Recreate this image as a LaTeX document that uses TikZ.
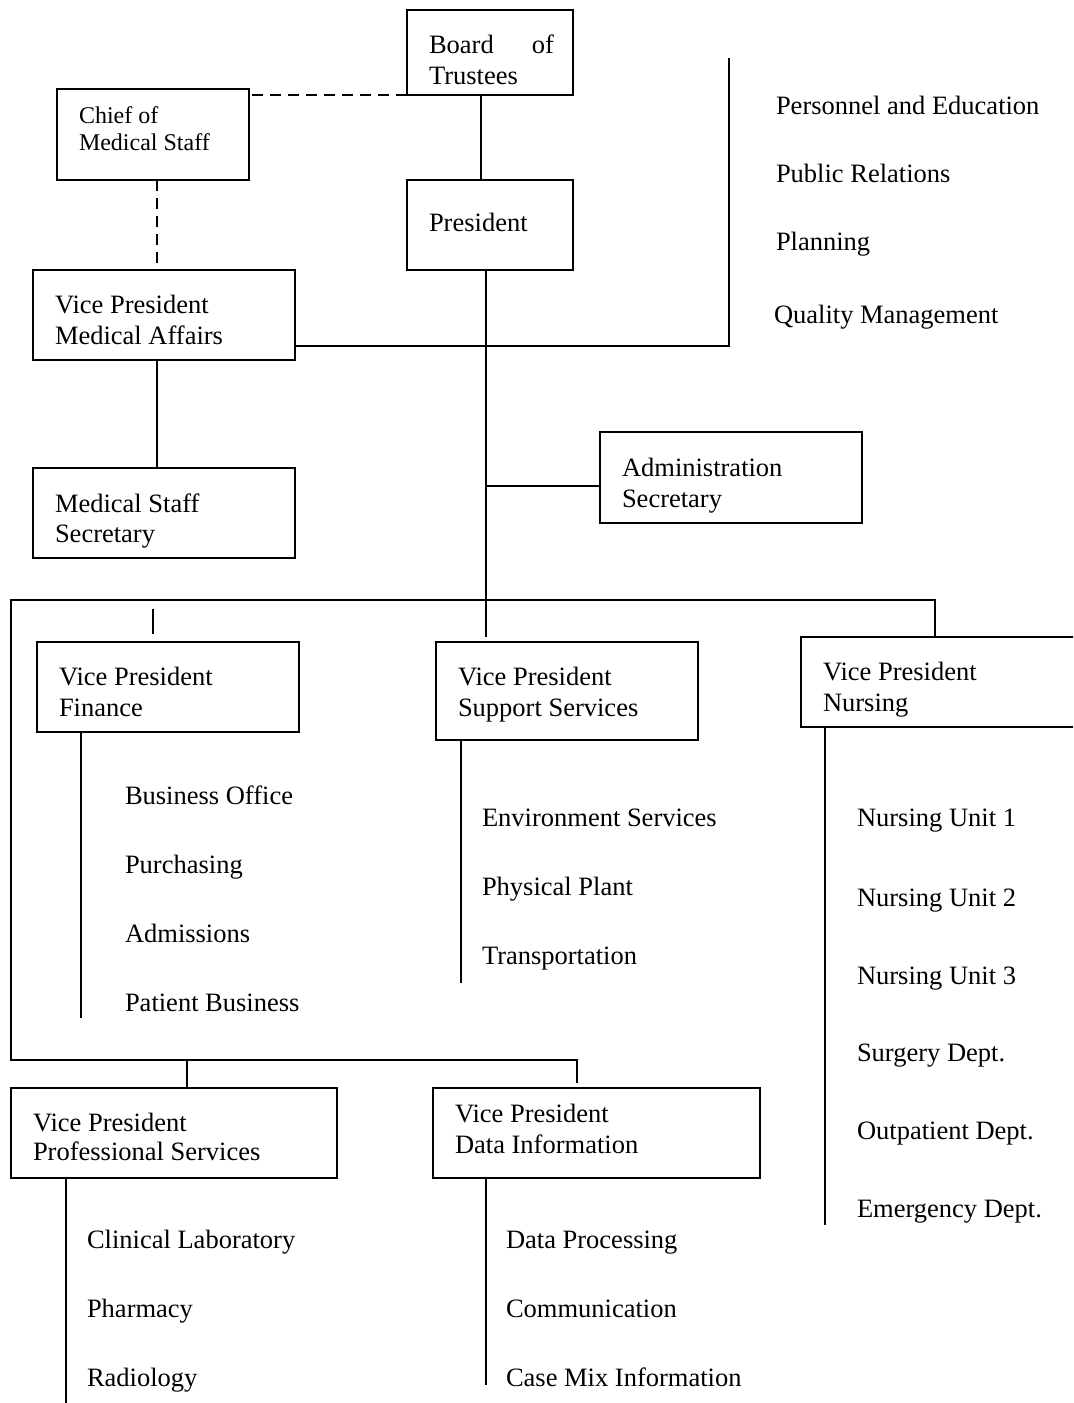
\documentclass[tikz,border=0pt]{standalone}
\usepackage{fontspec}
\setmainfont{Liberation Serif}
\begin{document}
\begin{tikzpicture}[x=0.5pt,y=-0.5pt,line width=1pt,
  unit/.style={draw,rectangle,inner sep=0pt,outer sep=0pt,anchor=north west},
  lbl/.style={anchor=base west,inner sep=0pt,font=\fontsize{13.25}{15.5}\selectfont},
  smalllbl/.style={anchor=base west,inner sep=0pt,font=\fontsize{12}{13.5}\selectfont},
  dashlink/.style={dash pattern=on 5.5pt off 3.5pt}]
\useasboundingbox (0,0) rectangle (1073,1403);
\clip (0,0) rectangle (1073,1403);

% ---- boxes ----
\node[unit,minimum width=83pt,minimum height=42.5pt] (board) at (407,10) {};
\node[unit,minimum width=96pt,minimum height=45.5pt] (chief) at (57,89) {};
\node[unit,minimum width=83pt,minimum height=45pt] (pres) at (407,180) {};
\node[unit,minimum width=131pt,minimum height=45pt] (vpma) at (33,270) {};
\node[unit,minimum width=131pt,minimum height=45pt] (mss) at (33,468) {};
\node[unit,minimum width=131pt,minimum height=45.5pt] (admin) at (600,432) {};
\node[unit,minimum width=131pt,minimum height=45pt] (vpfin) at (37,642) {};
\node[unit,minimum width=131pt,minimum height=49pt] (vpss) at (436,642) {};
\node[unit,minimum width=150pt,minimum height=45pt] (vpnur) at (801,637) {};
\node[unit,minimum width=163pt,minimum height=45pt] (vpps) at (11,1088) {};
\node[unit,minimum width=163.5pt,minimum height=45pt] (vpdi) at (433,1088) {};

% ---- box captions ----
\node[lbl] (board-a) at (428,53) {\makebox[62.5pt][s]{Board of}};
\node[lbl] (board-b) at (428,84) {Trustees};
\node[smalllbl] (chief-a) at (78,123) {Chief of};
\node[smalllbl] (chief-b) at (78,150) {Medical Staff};
\node[lbl] (pres-a) at (428,231) {President};
\node[lbl] (vpma-a) at (54,313) {Vice President};
\node[lbl] (vpma-b) at (54,344) {Medical Affairs};
\node[lbl] (mss-a) at (54,512) {Medical Staff};
\node[lbl] (mss-b) at (54,542) {Secretary};
\node[lbl] (admin-a) at (621,476) {Administration};
\node[lbl] (admin-b) at (621,507) {Secretary};
\node[lbl] (vpfin-a) at (58,685) {Vice President};
\node[lbl] (vpfin-b) at (58,716) {Finance};
\node[lbl] (vpss-a) at (457,685) {Vice President};
\node[lbl] (vpss-b) at (457,716) {Support Services};
\node[lbl] (vpnur-a) at (822,680) {Vice President};
\node[lbl] (vpnur-b) at (822,711) {Nursing};
\node[lbl] (vpps-a) at (32,1131) {Vice President};
\node[lbl] (vpps-b) at (32,1160) {Professional Services};
\node[lbl] (vpdi-a) at (454,1122) {Vice President};
\node[lbl] (vpdi-b) at (454,1153) {Data Information};

% ---- staff functions ----
\node[lbl] (pe) at (775,114) {Personnel and Education};
\node[lbl] (pr) at (775,182) {Public Relations};
\node[lbl] (pl) at (775,250) {Planning};
\node[lbl] (qm) at (773,323) {Quality Management};

% ---- finance departments ----
\node[lbl] (bo) at (124,804) {Business Office};
\node[lbl] (pu) at (124,873) {Purchasing};
\node[lbl] (ad) at (124,942) {Admissions};
\node[lbl] (pb) at (124,1011) {Patient Business};

% ---- support services departments ----
\node[lbl] (es) at (481,826) {Environment Services};
\node[lbl] (pp) at (481,895) {Physical Plant};
\node[lbl] (tr) at (481,964) {Transportation};

% ---- nursing departments ----
\node[lbl] (nu1) at (856,826) {Nursing Unit 1};
\node[lbl] (nu2) at (856,906) {Nursing Unit 2};
\node[lbl] (nu3) at (856,984) {Nursing Unit 3};
\node[lbl] (sd) at (856,1061) {Surgery Dept.};
\node[lbl] (od) at (856,1139) {Outpatient Dept.};
\node[lbl] (ed) at (856,1217) {Emergency Dept.};

% ---- professional services departments ----
\node[lbl] (cl) at (86,1248) {Clinical Laboratory};
\node[lbl] (ph) at (86,1317) {Pharmacy};
\node[lbl] (ra) at (86,1386) {Radiology};

% ---- data information departments ----
\node[lbl] (dp) at (505,1248) {Data Processing};
\node[lbl] (co) at (505,1317) {Communication};
\node[lbl] (cm) at (505,1386) {Case Mix Information};

% ---- free line ends ----
\coordinate (trunk-end) at (486,637);
\coordinate (staff-corner) at (729,346);
\coordinate (staff-top) at (729,58);
\coordinate (bus-nw) at (11,600);
\coordinate (bus-sw) at (11,1060);
\coordinate (vpdi-drop) at (577,1083);
\coordinate (fin-end) at (81,1018);
\coordinate (ss-end) at (461,983);
\coordinate (nur-end) at (825,1225);
\coordinate (ps-end) at (66,1403);
\coordinate (di-end) at (486,1385);

% ---- advisory links ----
\draw[dashlink] (board.south west) -- (board.south west -| chief.east);
\draw[dashlink] ([xshift=2pt]chief.south) -- ([xshift=2pt]chief.south |- vpma.north);

% ---- line links ----
\draw ([xshift=-4.5pt]board.south) -- ([xshift=-4.5pt]pres.north);
\draw ([xshift=-2pt]pres.south) -- (trunk-end);
\draw ([yshift=7pt]vpma.south east) -- (staff-corner) -- (staff-top);
\draw ([xshift=-3.5pt]vpma.south) -- ([xshift=-3.5pt]mss.north);
\draw ([yshift=-4.25pt]admin.west) -- ([yshift=-4.25pt]admin.west -| trunk-end);
\draw ([xshift=67pt]vpnur.north west) |- (bus-nw) -- (bus-sw) -| (vpdi-drop);
\draw ([xshift=6.5pt]vpps.north) -- ([xshift=6.5pt]vpps.north |- bus-sw);
\draw ([xshift=-7.5pt,yshift=4pt]vpfin.north) -- ++(0,-25);

% ---- department lines ----
\draw ([xshift=22pt]vpfin.south west) -- (fin-end);
\draw ([xshift=12.5pt]vpss.south west) -- (ss-end);
\draw ([xshift=12pt]vpnur.south west) -- (nur-end);
\draw ([xshift=27.5pt]vpps.south west) -- (ps-end);
\draw ([xshift=26.5pt]vpdi.south west) -- (di-end);
\end{tikzpicture}
\end{document}
